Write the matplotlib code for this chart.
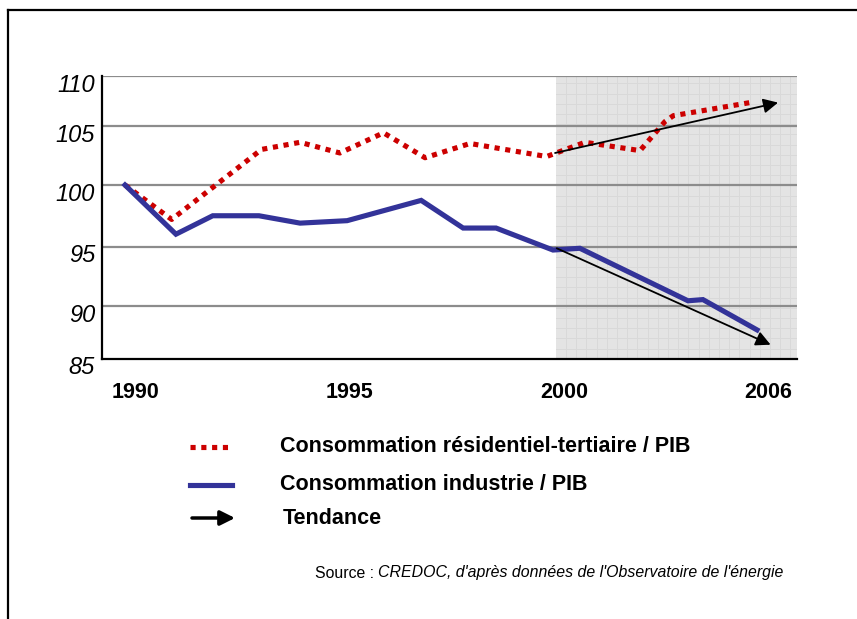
import numpy as np
import matplotlib
matplotlib.use('Agg')
import matplotlib.pyplot as plt
from matplotlib.lines import Line2D
from matplotlib.patches import FancyArrowPatch
from matplotlib import transforms

# ---------------- data ----------------
years_res = [1990, 1991.09, 1993.19, 1994.09, 1995.02, 1996.04, 1997.01, 1998.06,
             1999.85, 2000.94, 2002.56, 2003.29, 2003.54, 2005.79]
vals_res = [100, 97.2, 103.0, 103.6, 102.7, 104.4, 102.3, 103.5,
            102.4, 103.6, 102.9, 105.4, 106.0, 107.3]
years_ind = [1990, 1991.19, 1992.05, 1993.13, 1994.09, 1995.19, 1996.92, 1997.90,
             1998.67, 2000.0, 2000.79, 2003.97, 2004.41, 2006.0]
vals_ind = [100, 96.0, 97.5, 97.5, 96.9, 97.1, 98.75, 96.5,
            96.5, 94.7, 94.85, 90.4, 90.5, 87.7]
trend_res_x = [2000.06, 2006.62]
trend_res_y = [102.7, 107.3]
trend_ind_x = [2000.11, 2006.4]
trend_ind_y = [94.85, 86.3]
yticks = [85, 90, 95, 100, 105, 110]
xticks = [1990, 1995, 2000, 2006]
xticklabels = ['1990', '1995', '2000', '2006']
legend_labels = ['Consommation résidentiel-tertiaire / PIB',
                 'Consommation industrie / PIB',
                 'Tendance']
source_plain = 'Source : '
source_italic = "CREDOC, d'après données de l'Observatoire de l'énergie"

plt.rcParams['font.family'] = ['Liberation Sans', 'DejaVu Sans']

W, H = 857, 619
fig = plt.figure(figsize=(W / 100, H / 100), dpi=100)

def fx(x):
    return x / W

def fy(y):
    return 1 - y / H

# ------------- piecewise scales (the original axis is not evenly spaced) -------------
xk_d = [1980, 1990, 2000, 2006, 2016]
xk_p = [-303, 125, 553, 757, 1097]
yk_d = [75, 85, 90, 95, 100, 105, 110, 120]
yk_p = [-464.5, -358.5, -305.5, -246.5, -185, -125.7, -75.5, 24.5]

def xf(v):
    return np.interp(v, xk_d, xk_p)

def xi(v):
    return np.interp(v, xk_p, xk_d)

def yf(v):
    return np.interp(v, yk_d, yk_p)

def yi(v):
    return np.interp(v, yk_p, yk_d)

ax = fig.add_axes([fx(102), fy(358.5), fx(797) - fx(102), (358.5 - 75.5) / H])
ax.set_xscale('function', functions=(xf, xi))
ax.set_yscale('function', functions=(yf, yi))
x0, x1 = float(xi(102)), float(xi(797))
ax.set_xlim(x0, x1)
ax.set_ylim(85, 110)

# shaded forecast zone with fine grid
xs0 = float(xi(556))
ax.axvspan(xs0, x1, color='#e4e4e4', zorder=0, lw=0)
for p in np.arange(566, 797, 10.2):
    ax.axvline(float(xi(p)), ymin=0, ymax=1, color='#d9d9d9', lw=0.7, zorder=0.5)
for p in np.arange(348.5, 76, -10.2):
    v = float(yi(-p))
    ax.plot([xs0, x1], [v, v], color='#d9d9d9', lw=0.7, zorder=0.5)

# major horizontal grid
for v in yticks[1:]:
    ax.axhline(v, color='#8c8c8c', lw=1.6, zorder=1)

# series
ax.plot(years_res, vals_res, color='#cc0000', lw=3.7, linestyle=(0, (1, 1.1)),
        dash_capstyle='butt', zorder=3)
ax.plot(years_ind, vals_ind, color='#333399', lw=3.7, solid_joinstyle='miter', zorder=3)

for tx, ty in [(trend_res_x, trend_res_y), (trend_ind_x, trend_ind_y)]:
    ax.annotate('', xy=(tx[1], ty[1]), xytext=(tx[0], ty[0]),
                arrowprops=dict(arrowstyle='-|>', color='black', lw=1.3,
                                mutation_scale=22, shrinkA=0, shrinkB=0),
                zorder=4)

# spines / ticks
for s in ['top', 'right']:
    ax.spines[s].set_visible(False)
for s in ['left', 'bottom']:
    ax.spines[s].set_linewidth(1.6)
    ax.spines[s].set_color('black')
ax.set_facecolor('white')
ax.set_yticks(yticks)
ax.set_yticklabels([str(v) for v in yticks], fontsize=17, fontstyle='italic')
ax.set_xticks(xticks)
ax.set_xticklabels(xticklabels, fontsize=15.5, fontweight='bold')
ax.minorticks_off()
ax.tick_params(axis='both', length=0)
ax.tick_params(axis='x', pad=17)
ax.tick_params(axis='y', pad=5)
offx = transforms.ScaledTranslation(0.11, 0, fig.dpi_scale_trans)
for lab in ax.get_xticklabels():
    lab.set_transform(lab.get_transform() + offx)
offy = transforms.ScaledTranslation(0, -0.07, fig.dpi_scale_trans)
for lab in ax.get_yticklabels():
    lab.set_transform(lab.get_transform() + offy)

# frame (top and left only)
fig.add_artist(Line2D([fx(8), fx(857)], [fy(10), fy(10)], color='black', lw=1.6,
                      transform=fig.transFigure))
fig.add_artist(Line2D([fx(8), fx(8)], [fy(10), fy(619)], color='black', lw=1.6,
                      transform=fig.transFigure))

# legend
fig.add_artist(Line2D([fx(190), fx(232)], [fy(447), fy(447)], color='#cc0000', lw=3.7,
                      linestyle=(0, (1, 1.1)), dash_capstyle='butt',
                      transform=fig.transFigure))
fig.add_artist(Line2D([fx(190), fx(232)], [fy(485), fy(485)], color='#333399', lw=3.7,
                      transform=fig.transFigure))
fig.add_artist(FancyArrowPatch((fx(192), fy(518)), (fx(235), fy(518)),
                               arrowstyle='-|>', mutation_scale=22, lw=2.5,
                               color='black', shrinkA=0, shrinkB=0,
                               transform=fig.transFigure))
for lab, yy, xx in zip(legend_labels, [447, 485, 518], [280, 280, 283]):
    fig.text(fx(xx), fy(yy), lab, fontsize=15.5, fontweight='bold', va='center', ha='left')

# source
t1 = fig.text(fx(315), fy(573), source_plain, fontsize=11.4, va='center', ha='left')
ax_src = fig.add_axes([0, 0, 1, 1], facecolor='none')
ax_src.set_axis_off()
ax_src.annotate(source_italic, xy=(1, 0), xycoords=t1, va='bottom', ha='left',
                fontsize=11.4, fontstyle='italic')

fig.savefig('out.png', dpi=100)
